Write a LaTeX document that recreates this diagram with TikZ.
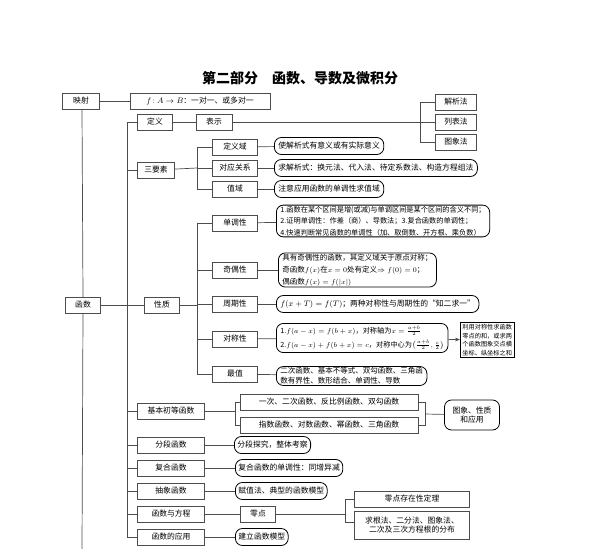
\documentclass[tikz,border=0pt]{standalone}
\usepackage{amsmath}
\usepackage{fontspec}
\setmainfont{Noto Sans CJK SC}
\usetikzlibrary{arrows.meta}
\begin{document}
\begin{tikzpicture}[x=1pt,y=-1pt,
  every node/.style={font=\fontsize{7.8}{9}\selectfont,inner sep=1pt,align=center},
  bx/.style={draw=black!70,rectangle,minimum height=16pt},
  rb/.style={draw=black,rounded corners=7pt,line width=0.8pt,minimum height=17pt,inner xsep=4pt,align=left},
  ln/.style={draw=black!70,line width=0.7pt}]
\useasboundingbox (0,0) rectangle (600,549);
\node[font=\fontsize{14}{16}\selectfont\bfseries] (title) at (300,78) {第二部分\quad 函数、导数及微积分};
% level 0
\node[bx,minimum width=37pt] (ys) at (81,101) {映射};
\node[bx,minimum width=140pt] (f) at (200,101) {$f\!:A\to B$：一对一、或多对一};
\node[bx,minimum width=35pt] (hs) at (83,305) {函数};
\draw[ln] (ys) -- (f);
\coordinate (v0t) at (82,109); \coordinate (v0b) at (82,549);
\draw[ln] (v0t) -- (hs.north); \draw[ln] (hs.south) -- (v0b);
% level 1 column
\node[bx,minimum width=35pt] (dy) at (155,122) {定义};
\node[bx,minimum width=37pt] (sys) at (156,170) {三要素};
\node[bx,minimum width=35pt] (xz) at (162,305) {性质};
\node[bx,minimum width=67pt] (jb) at (171,411) {基本初等函数};
\node[bx,minimum width=67pt] (fd) at (171,445) {分段函数};
\node[bx,minimum width=67pt] (fh) at (171,468) {复合函数};
\node[bx,minimum width=67pt] (cx) at (171,491) {抽象函数};
\node[bx,minimum width=67pt] (fc) at (171,514) {函数与方程};
\node[bx,minimum width=67pt] (yy) at (171,537) {函数的应用};
\draw[ln] (hs) -- (xz);
\draw[ln] (127,122) -- (127,537);
\foreach \n in {dy,sys,jb,fd,fh,cx,fc,yy} \draw[ln] (127,0 |- \n) -- (\n.west);
% 定义
\node[bx,minimum width=36pt] (bs) at (214,122) {表示};
\draw[ln] (dy) -- (bs);
\node[bx,minimum width=41pt] (jx) at (456,102) {解析法};
\node[bx,minimum width=41pt] (lb) at (456,122) {列表法};
\node[bx,minimum width=41pt] (tx) at (456,142) {图象法};
\draw[ln] (bs) -- (lb);
\draw[ln] (420,102) -- (420,142);
\draw[ln] (420,102) -- (jx.west); \draw[ln] (420,142) -- (tx.west);
% 三要素
\node[bx,minimum width=45pt] (dyy) at (235,147) {定义域};
\node[bx,minimum width=45pt] (dygx) at (235,168) {对应关系};
\node[bx,minimum width=45pt] (zy) at (235,189) {值域};
\draw[ln] (sys) -- (197,168);
\draw[ln] (197,147) -- (197,189);
\foreach \n in {dyy,dygx,zy} \draw[ln] (197,0 |- \n) -- (\n.west);
\node[rb,anchor=west] (r1) at (274,146) {使解析式有意义或有实际意义};
\node[rb,anchor=west] (r2) at (274,168) {求解析式：换元法、代入法、待定系数法、构造方程组法};
\node[rb,anchor=west] (r3) at (274,189) {注意应用函数的单调性求值域};
\draw[ln] (dyy) -- (r1); \draw[ln] (dygx) -- (r2); \draw[ln] (zy) -- (r3);
% 性质
\node[bx,minimum width=45pt] (dd) at (235,223) {单调性};
\node[bx,minimum width=45pt] (jo) at (235,270) {奇偶性};
\node[bx,minimum width=45pt] (zq) at (235,304) {周期性};
\node[bx,minimum width=45pt] (dc) at (235,339) {对称性};
\node[bx,minimum width=45pt] (zz) at (235,374) {最值};
\draw[ln] (xz) -- (197,305);
\draw[ln] (197,223) -- (197,374);
\foreach \n in {dd,jo,zq,dc,zz} \draw[ln] (197,0 |- \n) -- (\n.west);
\node[rb,anchor=west,font=\fontsize{7.2}{11.5}\selectfont] (p1) at (276,221) {1.函数在某个区间是增(或减)与单调区间是某个区间的含义不同；\\2.证明单调性：作差（商）、导数法；3.复合函数的单调性；\\4.快速判断常见函数的单调性（加、取倒数、开方根、乘负数）};
\node[rb,anchor=west,font=\fontsize{7.5}{12}\selectfont] (p2) at (278,270) {具有奇偶性的函数，其定义域关于原点对称；\\奇函数$f(x)$在$x=0$处有定义$\Rightarrow f(0)=0$；\\偶函数$f(x)=f(|x|)$};
\node[rb,anchor=west] (p3) at (276,304) {$f(x+T)=f(T)$；两种对称性与周期性的“知二求一”};
\node[rb,anchor=west,font=\fontsize{7.2}{9}\selectfont,inner ysep=3pt] (p4) at (276,338) {1.$f(a-x)=f(b+x)$，对称轴为$x=\tfrac{a+b}{2}$\\[5pt]2.$f(a-x)+f(b+x)=c$，对称中心为$\bigl(\tfrac{a+b}{2},\tfrac{c}{2}\bigr)$};
\node[draw=black,line width=0.8pt,anchor=west,font=\fontsize{6.2}{8.5}\selectfont,inner sep=2pt] (p4r) at (460,340) {利用对称性求函数\\零点的和，或求两\\个函数图象交点横\\坐标、纵坐标之和};
\draw[ln,-{Stealth[length=5pt]}] (p4) -- (p4r);
\node[rb,anchor=west,font=\fontsize{7.5}{10}\selectfont] (p5) at (276,376) {二次函数、基本不等式、双勾函数、三角函\\数有界性、数形结合、单调性、导数};
\draw[ln] (dd) -- (p1); \draw[ln] (jo) -- (p2); \draw[ln] (zq) -- (p3);
\draw[ln] (dc) -- (p4); \draw[ln] (zz) -- (p5);
% 基本初等函数
\node[bx,minimum width=178pt] (e1) at (329,402) {一次、二次函数、反比例函数、双勾函数};
\node[bx,minimum width=178pt] (e2) at (329,425) {指数函数、对数函数、幂函数、三角函数};
\draw[ln] (jb) -- (235,411);
\draw[ln] (235,402) -- (235,425);
\draw[ln] (235,402) -- (e1.west); \draw[ln] (235,425) -- (e2.west);
\draw[ln] (e1.east) -- (425,402) -- (425,425) -- (e2.east);
\node[rb,minimum width=55pt,minimum height=30pt,align=center] (tg) at (472,415) {图象、性质\\和应用};
\draw[ln] (425,414) -- (tg);
% others
\node[rb,anchor=west,inner xsep=3pt] (q1) at (234,445) {分段探究，整体考察};
\node[rb,anchor=west,inner xsep=3pt] (q2) at (235,468) {复合函数的单调性：同增异减};
\node[rb,anchor=west,inner xsep=3pt] (q3) at (235,491) {赋值法、典型的函数模型};
\node[rb,anchor=west,inner xsep=3pt] (q5) at (235,537) {建立函数模型};
\draw[ln] (fd) -- (q1); \draw[ln] (fh) -- (q2); \draw[ln] (cx) -- (q3); \draw[ln] (yy) -- (q5);
\node[bx,minimum width=35pt] (ld) at (258,514) {零点};
\draw[ln] (fc) -- (ld);
\node[bx,minimum width=115pt] (z1) at (412,499) {零点存在性定理};
\node[bx,minimum width=115pt,minimum height=28pt] (z2) at (412,525) {求根法、二分法、图象法、\\二次及三次方程根的分布};
\draw[ln] (ld) -- (345,514);
\draw[ln] (345,499) -- (345,522);
\draw[ln] (345,499) -- (z1.west); \draw[ln] (345,522) -- (z2.west|-345,522);
\end{tikzpicture}
\end{document}
